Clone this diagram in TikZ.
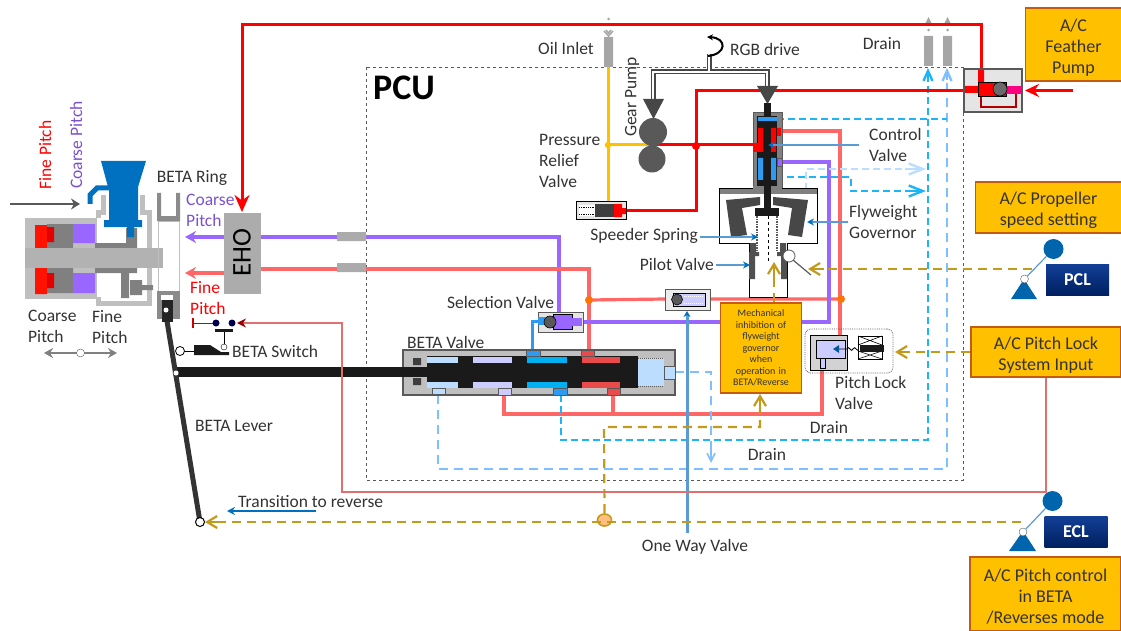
\documentclass[tikz,border=0pt]{standalone}
\usepackage{fontspec}
\setmainfont{Carlito}
\usetikzlibrary{arrows.meta, positioning, shapes.geometric}
\definecolor{acfill}{HTML}{FFC000}
\definecolor{acedge}{HTML}{C55A11}
\definecolor{pipered}{HTML}{FF6666}
\definecolor{thinred}{HTML}{E07070}
\definecolor{pipepurple}{HTML}{9966FF}
\definecolor{pipeblue}{HTML}{2E9AF0}
\definecolor{draincyan}{HTML}{1EB4F5}
\definecolor{drainsky}{HTML}{7FBFFF}
\definecolor{drainpale}{HTML}{BBDDFF}
\definecolor{goldline}{HTML}{C49A1C}
\definecolor{steel}{HTML}{5B9BD5}
\definecolor{bodygray}{HTML}{BFBFBF}
\definecolor{darkgray}{HTML}{595959}
\definecolor{partblue}{HTML}{0070C0}
\definecolor{lightland}{HTML}{BDDDFF}
\definecolor{lavender}{HTML}{CCCCFF}
\definecolor{landcyan}{HTML}{00B0F0}
\definecolor{landred}{HTML}{E94B4B}
\definecolor{blackpart}{HTML}{1A1A1A}
\definecolor{labeltext}{HTML}{333333}
\definecolor{navytop}{HTML}{123F96}
\definecolor{navybottom}{HTML}{002060}
\newcommand{\boxpad}{\rule{0pt}{18pt}}
\tikzstyle{lbl} = [text=labeltext, inner sep=0pt, font=\fontsize{17.5}{21}\selectfont]
\tikzstyle{acbox} = [draw=acedge, line width=1.2pt, fill=acfill, text=labeltext, inner sep=0pt, align=center, font=\fontsize{18}{21}\selectfont]
\tikzstyle{navybox} = [top color=navytop, bottom color=navybottom, text=white, inner sep=0pt, font=\bfseries\fontsize{18}{18}\selectfont, minimum height=31pt, minimum width=63pt]
\tikzstyle{redline} = [draw=red, line width=3pt]
\tikzstyle{pinkline} = [draw=pipered, line width=3.2pt]
\tikzstyle{purpleline} = [draw=pipepurple, line width=3.2pt]
\tikzstyle{cyandrain} = [draw=draincyan, line width=2.4pt, dash pattern=on 7pt off 4pt]
\tikzstyle{skydrain} = [draw=drainsky, line width=2.4pt, dash pattern=on 9pt off 6pt]
\tikzstyle{goldpath} = [draw=goldline, line width=2.2pt, dash pattern=on 9pt off 6pt]
\tikzstyle{goldarrow} = [draw=goldline, line width=2.2pt, -{Straight Barb[length=10pt,width=12pt]}]
\tikzstyle{steelarrow} = [draw=steel, line width=2.4pt, -{Stealth[length=7pt,width=7pt,color=partblue]}]
\tikzstyle{lever} = [draw=labeltext, line width=5pt]

\begin{document}
\begin{tikzpicture}[x=1pt, y=-1pt]
    \useasboundingbox (0,0) rectangle (1121,631);

    % PCU frame
    \draw[darkgray, dashed, line width=0.8pt] (366,67) rectangle (963,480);
    \node (pcu) [lbl, anchor=west, font=\bfseries\fontsize{36}{36}\selectfont, text=black] at (373,88) {PCU};

    % pipes behind the parts
    \draw[purpleline] (260,237) -| (559,312);
    \draw[pinkline] (260,269) -| (589,350);
    \fill[bodygray!80!darkgray] (337,232) rectangle (366,241) (337,263) rectangle (366,272);
    \draw[pinkline] (589,300) -- (665,299) (710,299) -- (840,299);
    \draw[pinkline] (781,131) -| (840,335);
    \draw[pinkline] (822,370) |- (504,414) -- (504,395);
    \draw[pinkline] (613,395) -- (613,414);
    \draw[purpleline] (583,322) -| (829,162) -- (781,162);
    \fill[orange!90!red] (589,300) circle (4) (841,299) circle (4);
    \draw[pipeblue, line width=3pt] (532,350) |- (538,321);

    % drains
    \draw[cyandrain] (561,395) |- (928,440) -- (928,72);
    \draw[skydrain] (438,395) |- (947,469) -- (947,72);
    \draw[skydrain] (675,372) -| (711,445);
    \draw[draw=drainsky, line width=1.6pt, -{Straight Barb[length=8pt,width=8pt]}] (711,445) -- (711,463);
    \draw[cyandrain] (777,119) -- (947,119);
    \draw[cyandrain] (776,177) -| (851,191) -- (912,191);
    \draw[draw=draincyan, line width=2.4pt, -{Straight Barb[length=14pt,width=11pt]}] (905,191) -- (926,191);
    \draw[draw=drainpale, line width=1.8pt, dash pattern=on 7pt off 4pt] (806,190) |- (912,169);
    \draw[draw=drainpale, line width=2.4pt, -{Straight Barb[length=14pt,width=11pt]}] (905,169) -- (926,169);
    \draw[draw=draincyan, line width=2.4pt, -{Straight Barb[length=10pt,width=9pt]}] (928,80) -- (928,68);
    \draw[draw=drainsky, line width=2.4pt, -{Straight Barb[length=10pt,width=9pt]}] (947,80) -- (947,68);
    \fill[drainsky] (800,190) rectangle (812,196);

    % gray ports at the top
    \fill[gray!70] (604,37) rectangle (613,67) (924,36) rectangle (933,66) (943,36) rectangle (952,66);
    \fill[gray!70] (924,26) -- (933,26) -- (928.5,17) -- cycle (943,26) -- (952,26) -- (947.5,17) -- cycle;
    \fill[gray!70] (928.5,30) circle (1.5) (947.5,30) circle (1.5) (608.5,19) circle (1.5);
    \draw[gray!70, line width=1.5pt] (604,31) -- (608.5,36) -- (613,31) (606,30) -- (608.5,33) -- (611,30);

    % oil supply
    \draw[acfill, line width=3pt] (608,67) -- (608,202);
    \draw[acfill, line width=3pt] (608,145) -- (650,145);
    \fill[acfill] (608,145) circle (3.2);
    \draw[redline] (653,145) -- (753,145);
    \draw[redline] (626,210.5) -| (696,90.5) -- (965,90.5);
    \fill[red] (696,146) circle (4);
    \draw[redline, -{Stealth[length=17pt,width=15pt]}] (981,70) |- (242,24.5) -- (242,212);

    % gear pump and drive
    \draw[darkgray!80!black, line width=5pt] (653,105) |- (767,72) -- (767,90) (709,72) -- (709,54);
    \draw[white, line width=1.5pt] (653,105) |- (767,72) -- (767,90) (709,72) -- (709,54);
    \fill[darkgray!80!black] (643,99) -- (664,99) -- (653.5,119) -- cycle;
    \fill[darkgray!80!black] (757,86) -- (778,86) -- (767.5,104) -- cycle;
    \fill[darkgray] (653,132) circle (14) (652,159) circle (13.5);
    \draw[black, line width=2pt, -{Stealth[length=6pt,width=6pt]}] (708,56) .. controls (727,54) and (727,38) .. (707,37);

    % relief valve
    \draw[black, fill=gray!20, line width=1pt] (576,202) rectangle (626,219);
    \fill[white] (579,205) rectangle (595,216);
    \draw[black, densely dotted, line width=0.8pt] (579,207) -- (595,207) (579,214) -- (595,214);
    \fill[darkgray!70!black] (595,204) rectangle (615,217);
    \fill[red] (614,204) rectangle (622,217) (622,208) rectangle (626,214);

    % control valve
    \draw[darkgray, fill=gray, line width=0.8pt] (753,112) rectangle (782,188);
    \fill[blackpart] (757,116) rectangle (777,187);
    \fill[blackpart] (764,103) rectangle (771,210);
    \fill[pipeblue] (758,117) rectangle (777,121);
    \fill[red] (758,128) rectangle (763,152) (771,128) rectangle (776,152) (753,143) rectangle (758,152) (777,128) rectangle (781,136);
    \fill[pipeblue] (758,158) rectangle (763,180) (771,158) rectangle (776,180);
    \draw[darkgray, fill=pipepurple] (777,158) rectangle (782,166);

    % flyweight governor and pilot valve
    \draw[black, line width=0.8pt, fill=white] (719,188) rectangle (817,243);
    \fill[gray] (719,188) rectangle (817,194);
    \draw[black, line width=0.8pt] (719,188) rectangle (817,243);
    \fill[gray] (753,186) rectangle (782,194);
    \fill[blackpart] (764,186) rectangle (771,210);
    \fill[darkgray!80!black] (726,200) -- (760,197) -- (760,205) -- (742,208) -- (747,235) -- (731,237) -- cycle;
    \fill[darkgray!80!black] (773,197) -- (808,200) -- (802,237) -- (788,235) -- (792,208) -- (773,205) -- cycle;
    \fill[blackpart] (755,208) rectangle (779,216);
    \draw[black, fill=white, line width=0.8pt] (749,243) -- (749,297) -- (787,297) -- (787,243);
    \fill[white] (750,241) rectangle (786,245);
    \fill[darkgray!90!black] (749,252) rectangle (755,279) (781,252) rectangle (787,279) (750,243) rectangle (756,252) (780,243) rectangle (786,252) (749,252) rectangle (759,256) (777,252) rectangle (787,256);
    \draw[darkgray, densely dotted, line width=1.6pt] (757,216) -- (757,252) (777,216) -- (777,252);
    \draw[black, dashed, line width=0.8pt] (768,216) -- (768,262);
    \draw[darkgray, line width=1.2pt] (793,260) -- (811,275);
    \node (flyball) [circle, draw=darkgray, fill=white, line width=0.8pt, minimum size=12pt, inner sep=0pt] at (789,256) {};

    % feather pump
    \draw[darkgray, fill=gray!20, line width=1.2pt] (964,69) rectangle (1022,112);
    \draw[red!70!black, line width=1.5pt] (1016,94) |- (981,107) -- (981,96);
    \fill[red] (965,86) rectangle (978,93) (978,70) rectangle (984,82);
    \draw[black, fill=red, line width=0.8pt] (978,82) rectangle (1006,96);
    \fill[red!50!magenta] (1006,86) rectangle (1021,94);
    \draw[black, fill=darkgray!90, line width=0.6pt] (1000,89) circle (7);
    \draw[redline, -{Stealth[length=14pt,width=13pt]}] (1073,90.5) -- (1025,90.5);

    % BETA valve
    \draw[darkgray, fill=bodygray, line width=1.2pt] (403,350) rectangle (675,395);
    \fill[blackpart] (176,367) rectangle (438,377);
    \fill[blackpart] (427,356) rectangle (638,388);
    \foreach \xa/\xb/\tone in {427/458/lightland, 473/512/lavender, 527/567/landcyan, 581.5/620/landred}{
        \fill[\tone] (\xa,357) rectangle (\xb,363);
        \fill[\tone] (\xa,382) rectangle (\xb,388);
    }
    \fill[darkgray!70!black] (413,358) rectangle (421,365) (413,378) rectangle (421,385);
    \fill[lightland] (638,358) rectangle (664,386);
    \draw[darkgray, densely dotted, line width=1pt] (638,358) -- (664,358) (638,386) -- (664,386);
    \draw[darkgray, fill=lightland, line width=0.6pt] (664,366) rectangle (675,379);
    \draw[darkgray, fill=lightland, line width=0.6pt] (432,388) rectangle (445,394);
    \draw[darkgray, fill=lavender, line width=0.6pt] (498,388) rectangle (511,395);
    \draw[darkgray, fill=pipeblue, line width=0.6pt] (553,388) rectangle (567,395);
    \draw[darkgray, fill=landred, line width=0.6pt] (607,388) rectangle (620,395);
    \draw[darkgray, fill=pipeblue, line width=0.6pt] (526,350) rectangle (540,356);
    \draw[darkgray, fill=landred, line width=0.6pt] (581,350) rectangle (594,356);

    % selection valve
    \draw[darkgray, fill=gray!20, line width=1pt] (538,312) rectangle (583,332);
    \draw[black, fill=pipepurple, line width=0.6pt] (553,314) rectangle (572,329);
    \fill[pipeblue] (538,317) rectangle (545,325);
    \fill[pipepurple] (572,318) rectangle (582,326);
    \draw[black, fill=darkgray, line width=0.6pt] (550,322) circle (6);

    % one way valve
    \draw[darkgray, fill=gray!15, line width=1pt] (665,289) rectangle (710,310);
    \draw[black, fill=lavender, line width=0.8pt] (673,293) rectangle (705,306);
    \draw[white, densely dotted, line width=1pt] (684,296) -- (704,296) (684,303) -- (704,303);
    \draw[black, fill=darkgray, line width=0.6pt] (677,299.5) circle (5.5);
    \draw[steel, line width=3pt, -{Stealth[length=6pt,width=7pt,color=partblue]}] (687,533) -- (687,311);

    % pitch lock valve
    \node (lockframe) [draw=darkgray, densely dotted, rounded corners=6pt, line width=0.8pt, minimum width=88pt, minimum height=44pt, inner sep=0pt] at (849,351) {};
    \draw[black, fill=gray!35, line width=0.8pt] (810,335) rectangle (847,370);
    \draw[black, fill=lavender, line width=0.8pt] (816,340) rectangle (845,358);
    \draw[black, fill=lavender, line width=0.8pt] (820,358) rectangle (825,368);
    \fill[partblue!80!black] (833,349) -- (839,345) -- (839,353) -- cycle;
    \draw[black, line width=0.8pt] (839,349) -- (847,349) .. controls (849,344) and (851,354) .. (853,349) .. controls (855,344) and (857,354) .. (860,349);
    \draw[black, fill=white, line width=1pt] (858,336) rectangle (882,359);
    \draw[black, line width=0.6pt] (858,336) -- (882,345) (882,336) -- (858,345) (858,351) -- (882,359) (882,351) -- (858,359);
    \fill[blackpart] (860,345) rectangle (884,352);

    % control boxes
    \node (feather) [acbox, minimum width=96pt, minimum height=73pt] at (1073.5,44.5) {\boxpad A/C\\Feather\\Pump};
    \node (propset) [acbox, minimum width=146pt, minimum height=51pt] at (1048.5,207.5) {\boxpad A/C Propeller\\speed setting};
    \node (lockinput) [acbox, minimum width=150pt, minimum height=50pt] at (1046,352) {\boxpad A/C Pitch Lock\\System Input};
    \node (betactl) [acbox, minimum width=151pt, minimum height=74pt] at (1045.5,594) {\boxpad A/C Pitch control\\in BETA\\/Reverses mode};
    \node (inhibit) [acbox, minimum width=81pt, minimum height=90pt, font=\fontsize{10}{11.5}\selectfont, text width=76pt] at (761,348) {Mechanical\\inhibition of\\flyweight\\governor\\when\\operation in\\BETA/Reverse};

    % levers
    \node (pclbox) [navybox] at (1077.5,279.5) {PCL};
    \node (eclbox) [navybox] at (1076,531.5) {ECL};
    \fill[partblue!90!black] (1011,299) -- (1037,299) -- (1024,279) -- cycle;
    \fill[partblue!90!black] (1009,551) -- (1036,551) -- (1023,531) -- cycle;
    \node (pclball) [circle, fill=partblue!90!black, minimum size=20pt, inner sep=0pt] at (1053.5,249) {};
    \node (pclpivot) [circle, draw=darkgray, fill=white, minimum size=8pt, inner sep=0pt] at (1024.5,279) {};
    \node (eclball) [circle, fill=partblue!90!black, minimum size=20pt, inner sep=0pt] at (1052.5,501) {};
    \node (eclpivot) [circle, draw=darkgray, fill=white, minimum size=8pt, inner sep=0pt] at (1023,532) {};
    \draw[steel, line width=1.2pt] (pclball) -- (pclpivot);
    \draw[steel, line width=1.2pt] (eclball) -- (eclpivot);

    % gold signals
    \coordinate (eclgold) at (1021,522);
    \coordinate (pclgold) at (1032,269);
    \node (joint) [ellipse, draw=goldline, fill=orange!50, line width=1.6pt, minimum width=14pt, minimum height=12pt, inner sep=0pt] at (604.5,520) {};
    \draw[goldpath] (eclgold) -- (216,522);
    \draw[goldarrow] (218,522) -- (205,522);
    \draw[goldpath] (pclgold) -- (822,269);
    \draw[goldarrow] (824,269) -- (808,269);
    \draw[goldpath] (lockinput.west) -- (908,352);
    \draw[goldarrow] (910,352) -- (895,352);
    \draw[goldpath] (joint.north) -- (604,427) -| (760,408);
    \draw[goldarrow] (760,410) -- (760,394);
    \draw[goldpath] (inhibit.north -| 774,303) -- (774,277);
    \draw[goldarrow] (774,279) -- (774,262);

    % EHO and thin signal line
    \node (eho) [fill=gray!65, minimum width=37pt, minimum height=81pt, inner sep=0pt] at (242,253) {};
    \node (eholabel) [rotate=90, text=black, inner sep=0pt, font=\fontsize{27}{27}\selectfont] at (242,253) {EHO};
    \draw[draw=pipepurple, line width=3.2pt, -{Stealth[length=11pt,width=12pt]}] (224,237) -- (185,237);
    \draw[pinkline, -{Stealth[length=11pt,width=12pt]}] (224,273) -- (185,273);
    \draw[draw=thinred, line width=1.3pt] (lockinput.south) |- (342,492) -- (342,436);
    \draw[draw=thinred, line width=1.3pt, -{Stealth[length=9pt,width=9pt,color=red!60!black]}] (342,436) -- (342,323) -- (237,323);

    % BETA switch
    \draw[red!80!black, line width=0.8pt] (193,323) -- (216,323);
    \draw[red!80!black, line width=1.4pt] (193,318) -- (193,328);
    \fill[black!70!blue] (216,323) circle (3.5) (232,323) circle (3.5);
    \fill[blackpart] (215,329) rectangle (233,332);
    \draw[black, line width=0.8pt] (224,332) -- (224,344) (180,351) -- (194,351);
    \fill[blackpart] (194,345) -- (210,345) -- (221,352) -- (229,352) -- (229,355) -- (194,355) -- cycle;
    \node (swpivot) [circle, draw=black, fill=white, minimum size=6pt, inner sep=0pt] at (224,347) {};
    \node (swroot) [circle, draw=black, fill=white, line width=0.8pt, minimum size=9pt, inner sep=0pt] at (180,351) {};

    % propeller side
    \draw[bodygray, line width=5pt] (103,195) -- (103,212) -- (98,212) -- (98,218);
    \draw[bodygray, line width=5pt] (142,195) -- (142,212) -- (149,212) -- (149,303) -- (98,303) -- (98,297);
    \fill[bodygray] (25,218) rectangle (97,299);
    \fill[gray] (47,224) rectangle (73,248) (47,268) rectangle (73,293);
    \fill[pipepurple] (73,224) rectangle (95,243) (73,273) rectangle (95,293);
    \fill[red!85!orange] (35,225) rectangle (47,248) (35,268) rectangle (47,294);
    \fill[red!90!black] (47,227) rectangle (54,242) (47,273) rectangle (54,288);
    \fill[gray] (95,243) rectangle (137,248) (126,228) rectangle (137,243) (95,268) rectangle (137,273) (121,273) rectangle (129,298);
    \fill[gray] (130,280) rectangle (142,295) (142,285) rectangle (153,290);
    \fill[bodygray!80!gray] (25,248) rectangle (163,268);
    \fill[partblue] (101,161) -- (146,161) -- (138,187) -- (108,187) -- cycle;
    \fill[partblue] (109,186) rectangle (138,221) (104,220) rectangle (142,227) (127,227) rectangle (134,237);
    \draw[partblue, line width=5pt] (90,204) -- (90,195) -- (97,188) -- (110,188);
    \draw[darkgray, line width=2.4pt, -{Stealth[length=9pt,width=11pt]}] (10,204) -- (80,204);

    % BETA ring and lever
    \draw[bodygray, line width=0.8pt] (158,221) rectangle (179,291);
    \fill[darkgray!70] (157,193) rectangle (161,221) (176,193) rectangle (180,221) (157,216) rectangle (180,221);
    \fill[darkgray!70] (157,291) rectangle (180,319);
    \fill[white] (161,295) rectangle (173,300);
    \draw[lever] (166,315) -- (200,522);
    \fill[blackpart!90!gray] (162,300) rectangle (173,322);
    \node (ringpin) [circle, fill=white, minimum size=5pt, inner sep=0pt] at (166,310) {};
    \node (rodpin) [circle, draw=black, fill=white, minimum size=6pt, inner sep=0pt] at (176,373) {};
    \node (leverend) [circle, draw=black, fill=white, line width=1pt, minimum size=9pt, inner sep=0pt] at (200,522) {};

    % pitch direction
    \draw[gray, line width=2.4pt, {Stealth[length=9pt,width=10pt]}-{Stealth[length=9pt,width=10pt]}] (44,353) -- (117,353);
    \node (pitchmid) [circle, draw=darkgray, fill=white, minimum size=8pt, inner sep=0pt] at (80.5,353) {};

    % valve call-out arrows
    \draw[steelarrow] (859,145) -- (768,145);
    \draw[steelarrow] (848,222) -- (807,222);
    \draw[steelarrow, line width=1.4pt] (700,237) -- (758,237);
    \draw[steelarrow, line width=1.4pt] (716,265) -- (750,265);
    \draw[partblue, line width=1.5pt, -{Stealth[length=8pt,width=8pt]}] (316,511) -- (227,511);

    % labels
    \node (finerot) [lbl, rotate=90, text=red] at (45,155) {Fine Pitch};
    \node (coarserot) [lbl, rotate=90, text=pipepurple!80!black] at (76,145) {Coarse Pitch};
    \node (ringlabel) [lbl] at (192,178) {BETA Ring};
    \node (coarseeho) [lbl, text=pipepurple!80!black, align=left, anchor=north west] at (186,194) {Coarse\\Pitch};
    \node (fineeho) [lbl, text=red, align=left, anchor=north west] at (190,281) {Fine\\Pitch};
    \node (coarselabel) [lbl, align=left, anchor=north west] at (28,310) {Coarse\\Pitch};
    \node (finelabel) [lbl, align=left, anchor=north west] at (92,310) {Fine\\Pitch};
    \node (switchlabel) [lbl, anchor=west] at (232,351) {BETA Switch};
    \node (leverlabel) [lbl, anchor=west] at (195,426) {BETA Lever};
    \node (translabel) [lbl, anchor=west] at (238,502) {Transition to reverse};
    \node (oneway) [lbl] at (695,547) {One Way Valve};
    \node (drainlow) [lbl] at (767,455) {Drain};
    \node (drainmid) [lbl] at (829,428) {Drain};
    \node (draintop) [lbl] at (882,44) {Drain};
    \node (oillabel) [lbl] at (566,48) {Oil Inlet};
    \node (rgblabel) [lbl] at (765,49) {RGB drive};
    \node (gearlabel) [lbl, rotate=90] at (632,97) {Gear Pump};
    \node (relieflabel) [lbl, align=left, anchor=north west] at (539,134) {Pressure\\Relief\\Valve};
    \node (ctrllabel) [lbl, align=left, anchor=north west] at (869,128) {Control\\Valve};
    \node (flylabel) [lbl, align=left, anchor=north west] at (849,205) {Flyweight\\Governor};
    \node (speederlabel) [lbl, anchor=east] at (698,236) {Speeder Spring};
    \node (pilotlabel) [lbl, anchor=east] at (714,264) {Pilot Valve};
    \node (sellabel) [lbl, anchor=west] at (447,302) {Selection Valve};
    \node (betalabel) [lbl, anchor=west] at (407,342) {BETA Valve};
    \node (locklabel) [lbl, align=left, anchor=north west] at (835,376) {Pitch Lock\\Valve};
\end{tikzpicture}
\end{document}
